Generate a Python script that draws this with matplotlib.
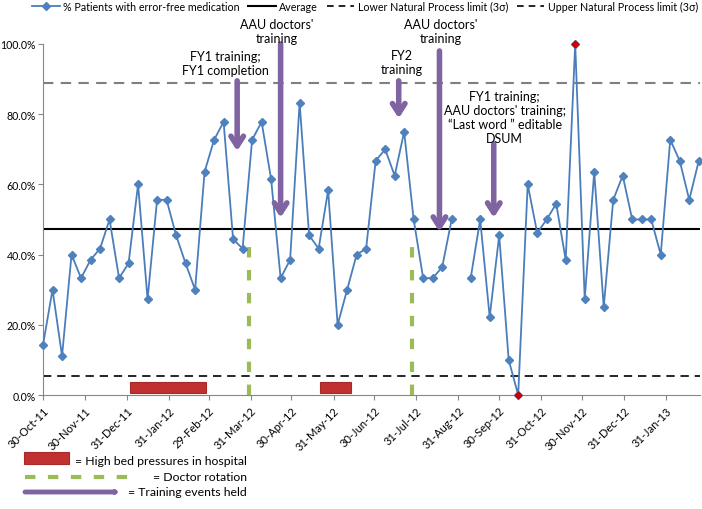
import numpy as np
import pandas as pd
import matplotlib
matplotlib.use("Agg")
import matplotlib.pyplot as plt
import matplotlib.dates as mdates
from matplotlib.lines import Line2D
from matplotlib.patches import Rectangle, FancyArrowPatch

plt.rcParams['font.family'] = ['Lato', 'DejaVu Sans']

# weekly run chart, first week 30-Oct-11
start_date = '2011-10-30'
pct_error_free = [14.3, 30.0, 11.1, 40.0, 33.3, 38.5, 41.7, 50.0, 33.3, 37.5,
                  60.0, 27.3, 55.6, 55.6, 45.5, 37.5, 30.0, 63.6, 72.7, 77.8,
                  44.4, 41.7, 72.7, 77.8, 61.5, 33.3, 38.5, 83.3, 45.5, 41.7,
                  58.3, 20.0, 30.0, 40.0, 41.7, 66.7, 70.0, 62.5, 75.0, 50.0,
                  33.3, 33.3, 36.4, 50.0, np.nan, 33.3, 50.0, 22.2, 45.5, 10.0,
                  0.0, 60.0, 46.2, 50.0, 54.5, 38.5, 100.0, 27.3, 63.6, 25.0,
                  55.6, 62.5, 50.0, 50.0, 50.0, 40.0, 72.7, 66.7, 55.6, 66.7]
average = 47.2
lower_limit = 5.5
upper_limit = 89.0

tick_dates = ['2011-10-30', '2011-11-30', '2011-12-31', '2012-01-31', '2012-02-29',
              '2012-03-31', '2012-04-30', '2012-05-31', '2012-06-30', '2012-07-31',
              '2012-08-31', '2012-09-30', '2012-10-31', '2012-11-30', '2012-12-31',
              '2013-01-31']

# periods of high bed pressure (start, end)
bed_pressure = [('2012-01-02', '2012-02-27'), ('2012-05-21', '2012-06-13')]
# doctor rotations
rotations = ['2012-03-30', '2012-07-28']
# training events: (label, arrow date, arrow top, arrow tip, text date, text y)
training = [
    ("FY1 training;\nFY1 completion", '2012-03-21', 89.5, 69.5, '2012-03-12', 94.6),
    ("AAU doctors'\ntraining", '2012-04-22', 100.0, 50.5, '2012-04-19', 103.7),
    ("FY2\ntraining", '2012-07-18', 89.5, 78.8, '2012-07-20', 94.9),
    ("AAU doctors'\ntraining", '2012-08-17', 98.0, 46.5, '2012-08-18', 103.7),
    ("FY1 training;\nAAU doctors' training;\n\u201cLast word \u201d editable\nDSUM",
     '2012-09-26', 71.5, 50.5, '2012-10-04', 79.3),
]

blue = '#4A7EBB'
purple = '#8064A2'
green = '#9BBB59'
red = '#C0312F'

dates = pd.date_range(start_date, periods=len(pct_error_free), freq='7D')
vals = np.array(pct_error_free)

fig = plt.figure(figsize=(7.02, 5.10), dpi=100)
ax = fig.add_axes([0.0613, 0.2235, 0.936, 0.6883])

ax.axhline(average, color='black', lw=1.5, zorder=2)
ax.axhline(lower_limit, color='black', lw=1.2, ls=(0, (5, 3.5)), zorder=2)
ax.axhline(upper_limit, color='#7F7F7F', lw=1.5, ls=(0, (5, 3.5)), zorder=2)

for s, e in bed_pressure:
    s, e = pd.Timestamp(s), pd.Timestamp(e)
    ax.add_patch(Rectangle((mdates.date2num(s), 0.7), mdates.date2num(e) - mdates.date2num(s), 2.9,
                           facecolor=red, edgecolor='#A52A2A', lw=0.8, zorder=3))

for d in rotations:
    ax.plot([pd.Timestamp(d)] * 2, [0, 45], color=green, lw=3, ls=(0, (2.5, 3)), zorder=3)

ax.plot(dates, vals, color=blue, lw=1.3, marker='D', ms=4.5, mfc='#4F81BD', mec='#4F81BD',
        zorder=4, clip_on=False)
out = (vals > upper_limit) | (vals < lower_limit)
ax.plot(dates[out], vals[out], ls='none', marker='D', ms=3.5, color='#D00000', zorder=5, clip_on=False)

for label, ad, top, tip, td, ty in training:
    ax.annotate('', xy=(pd.Timestamp(ad), tip), xytext=(pd.Timestamp(ad), top),
                arrowprops=dict(arrowstyle='->,head_length=0.7,head_width=0.45',
                                color=purple, lw=4, shrinkA=0, shrinkB=0),
                annotation_clip=False, zorder=6)
    ax.text(pd.Timestamp(td), ty, label, ha='center', va='center', fontsize=9,
            linespacing=1.2, clip_on=False, zorder=6)

ax.set_ylim(0, 100)
ax.set_xlim(pd.Timestamp('2011-10-30'), pd.Timestamp('2013-02-25'))
ax.set_yticks(np.arange(0, 101, 20))
ax.set_yticklabels(['%.1f%%' % t for t in np.arange(0, 101, 20)], fontsize=7.6)
ticks = pd.to_datetime(tick_dates)
ax.set_xticks(ticks)
ax.set_xticklabels([t.strftime('%d-%b-%y') for t in ticks], rotation=45, ha='right',
                   rotation_mode='anchor', fontsize=8)
for side in ['top', 'right']:
    ax.spines[side].set_visible(False)
for side in ['left', 'bottom']:
    ax.spines[side].set_color('#868686')
ax.tick_params(axis='both', colors='#868686', labelcolor='black', length=3.5)
ax.tick_params(axis='y', pad=1.5)

# top legend
handles = [Line2D([], [], color=blue, lw=1.3, marker='D', ms=4, mfc='#4F81BD', mec='#4F81BD'),
           Line2D([], [], color='black', lw=1.5),
           Line2D([], [], color='black', lw=1.2, ls=(0, (4, 3))),
           Line2D([], [], color='black', lw=1.2, ls=(0, (4, 3)))]
labels = ['% Patients with error-free medication', 'Average',
          'Lower Natural Process limit (3\u03c3)', 'Upper Natural Process limit (3\u03c3)']
fig.legend(handles, labels, loc='center', bbox_to_anchor=(0.52, 0.986), ncol=4,
           frameon=False, fontsize=7.7, handlelength=2.6, columnspacing=0.8, handletextpad=0.3)

# bottom key
fig.add_artist(Rectangle((24 / 702, 1 - 465 / 510), 45 / 702, 12 / 510, transform=fig.transFigure,
                         facecolor=red, edgecolor='#A52A2A', lw=0.8))
fig.add_artist(Line2D([25 / 702, 130 / 702], [1 - 478 / 510] * 2, transform=fig.transFigure,
                      color=green, lw=3, ls=(0, (2.5, 3))))
fig.add_artist(FancyArrowPatch((25 / 702, 1 - 493 / 510), (120 / 702, 1 - 493 / 510),
                               transform=fig.transFigure, color=purple, lw=3.5,
                               arrowstyle='->,head_length=0.6,head_width=0.35', shrinkA=0, shrinkB=0))
key_text = ['= High bed pressures in hospital', '= Doctor rotation', '= Training events held']
for i, t in enumerate(key_text):
    fig.text(247 / 702, 1 - (462 + 15.5 * i) / 510, t, ha='right', va='center', fontsize=8.8)

fig.savefig('out.png', dpi=100)
